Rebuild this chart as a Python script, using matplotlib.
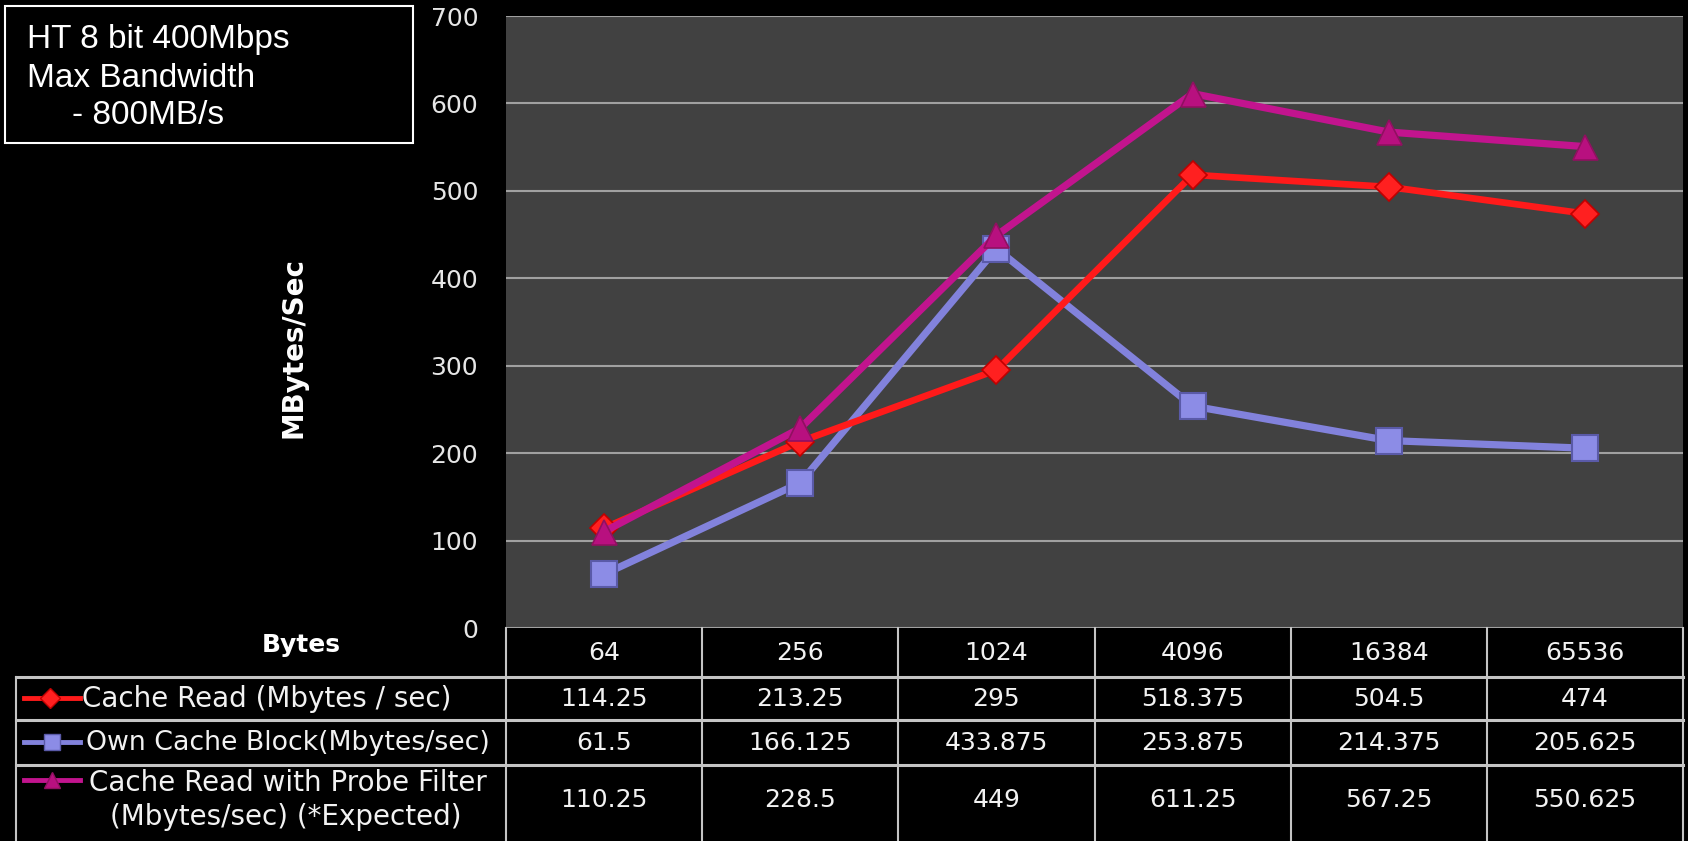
import matplotlib
matplotlib.use('Agg')
import matplotlib.pyplot as plt
import numpy as np

# block sizes (bytes) and measured throughput
block_sizes = ['64', '256', '1024', '4096', '16384', '65536']
cache_read = [114.25, 213.25, 295, 518.375, 504.5, 474]
own_block = [61.5, 166.125, 433.875, 253.875, 214.375, 205.625]
probe_filter = [110.25, 228.5, 449, 611.25, 567.25, 550.625]

cache_read_lbl = ['114.25', '213.25', '295', '518.375', '504.5', '474']
own_block_lbl = ['61.5', '166.125', '433.875', '253.875', '214.375', '205.625']
probe_filter_lbl = ['110.25', '228.5', '449', '611.25', '567.25', '550.625']

y_ticks = [0, 100, 200, 300, 400, 500, 600, 700]

RED = '#ff1a1a'
BLUE = '#8282dc'
MAG = '#c2148e'
TXT = '#f2f2f2'
W, H = 1688, 841

fig = plt.figure(figsize=(W / 100, H / 100), dpi=100, facecolor='black')

# main plot area (pixel box converted to figure fractions)
left, right, top, bottom = 506, 1683, 16, 628
ax = fig.add_axes([left / W, 1 - bottom / H, (right - left) / W, (bottom - top) / H])
ax.set_facecolor('#414141')
x = np.arange(len(block_sizes))

ax.plot(x, own_block, color=BLUE, lw=5.2, marker='s', ms=19,
        mfc='#8c8ce6', mec='#5a5aa8', mew=1.5, zorder=3)
ax.plot(x, cache_read, color=RED, lw=4.8, marker='D', ms=14,
        mfc='#ff2020', mec='#c00000', mew=1.2, zorder=4)
ax.plot(x, probe_filter, color=MAG, lw=5.2, marker='^', ms=18,
        mfc='#b8107f', mec='#901060', mew=1.2, zorder=5)

ax.set_xlim(-0.5, len(block_sizes) - 0.5)
ax.set_ylim(0, 700)
ax.set_yticks(y_ticks)
ax.set_xticks([])
ax.yaxis.grid(True, color='#a0a0a0', lw=1.5)
ax.set_axisbelow(True)
ax.tick_params(axis='y', length=0, pad=20, labelsize=18, labelcolor='#e6e6e6')
for s in ax.spines.values():
    s.set_visible(False)

# overlay in pixel coordinates for the data table, labels and note box
ov = fig.add_axes([0, 0, 1, 1], facecolor='none')
ov.set_xlim(0, W)
ov.set_ylim(H, 0)
ov.axis('off')

ov.text(294, 347, 'MBytes/Sec', rotation=90, ha='center', va='center',
        color='white', fontsize=20, fontweight='bold')
ov.text(301, 645, 'Bytes', ha='center', va='center', color='white',
        fontsize=18, fontweight='bold')

# note box
ov.add_patch(plt.Rectangle((5, 6), 408, 137, fill=False, ec='white', lw=1.5))
note_font = dict(color='white', fontsize=24, family='Liberation Sans', va='baseline')
ov.text(27, 48, 'HT 8 bit 400Mbps', **note_font)
ov.text(27, 87, 'Max Bandwidth', **note_font)
ov.text(72, 124, '- 800MB/s', **note_font)

# table grid
col_edges = [left + i * (right - left) / len(block_sizes) for i in range(len(block_sizes) + 1)]
row_edges = [628, 677, 720, 765, H]
lc = '#c4c4c4'
for xe in col_edges:
    ov.plot([xe, xe], [row_edges[0], H], color=lc, lw=1.5)
ov.plot([16, 16], [row_edges[1], H], color=lc, lw=1.5)
for ye in row_edges[1:4]:
    ov.plot([16, right], [ye, ye], color=lc, lw=2.2)

centers = [(col_edges[i] + col_edges[i + 1]) / 2 for i in range(len(block_sizes))]
cell_font = dict(color=TXT, fontsize=18, ha='center', va='center')
for cx, b, a, o, p in zip(centers, block_sizes, cache_read_lbl, own_block_lbl, probe_filter_lbl):
    ov.text(cx, 653, b, **cell_font)
    ov.text(cx, 699, a, **cell_font)
    ov.text(cx, 743, o, **cell_font)
    ov.text(cx, 800, p, **cell_font)

# row headers with legend keys
ov.plot([24, 80], [698, 698], color=RED, lw=3.5)
ov.plot([50], [698], marker='D', ms=10, mfc='#ff2020', mec='#c00000', color=RED)
ov.text(82, 699, 'Cache Read (Mbytes / sec)', color=TXT, fontsize=20, va='center')

ov.plot([24, 80], [742, 742], color=BLUE, lw=3.5)
ov.plot([52], [742], marker='s', ms=12, mfc='#8c8ce6', mec='#5a5aa8', color=BLUE)
ov.text(86, 743, 'Own Cache Block(Mbytes/sec)', color=TXT, fontsize=19.3, va='center')

ov.plot([24, 80], [780, 780], color=MAG, lw=3.5)
ov.plot([52], [780], marker='^', ms=12, mfc='#b8107f', mec='#901060', color=MAG)
ov.text(288, 783, 'Cache Read with Probe Filter', color=TXT, fontsize=20,
        ha='center', va='center')
ov.text(286, 817, '(Mbytes/sec) (*Expected)', color=TXT, fontsize=20,
        ha='center', va='center')

fig.savefig('out.png', dpi=100, facecolor='black')
